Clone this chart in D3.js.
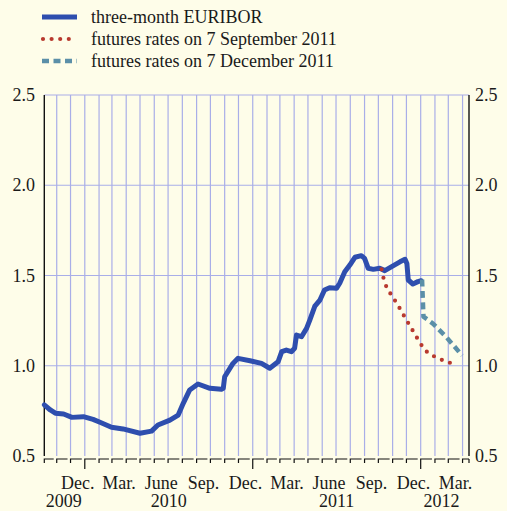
<!DOCTYPE html>
<html lang="en">
<head>
  <meta charset="UTF-8">
  <title>EURIBOR and futures</title>
  <script src="https://d3js.org/d3.v7.min.js"></script>
  <style>
    body { margin: 0; background: #fefde9; }
    svg { display: block; background: #fefde9; }
    text { font-family: "Liberation Serif", "Times New Roman", serif; font-size: 18px; fill: #1a1a1a; }
  </style>
</head>
<body>
<svg width="507" height="511"></svg>
<script>
  // three-month EURIBOR, %
  const euriborDates = ["2009-10-05","2009-10-18","2009-10-29","2009-11-16","2009-12-04","2009-12-29",
    "2010-01-19","2010-02-03","2010-02-28","2010-03-25","2010-05-01","2010-05-26","2010-06-09","2010-07-05",
    "2010-07-23","2010-08-03","2010-08-17","2010-09-04","2010-09-30","2010-10-25","2010-10-29","2010-11-01",
    "2010-11-19","2010-11-30","2010-12-26","2011-01-20","2011-02-07","2011-02-25","2011-03-05","2011-03-15",
    "2011-03-26","2011-04-02","2011-04-06","2011-04-17","2011-04-28","2011-05-05","2011-05-16","2011-05-27",
    "2011-06-06","2011-06-17","2011-07-02","2011-07-09","2011-07-20","2011-07-31","2011-08-11","2011-08-25",
    "2011-09-01","2011-09-09","2011-09-20","2011-10-04","2011-10-15","2011-10-30","2011-11-17","2011-11-28",
    "2011-12-02","2011-12-05","2011-12-15","2011-12-26","2012-01-02"];
  const euriborValues = [0.783,0.755,0.737,0.733,0.714,0.718,
    0.703,0.687,0.659,0.650,0.626,0.638,0.672,0.699,
    0.727,0.792,0.866,0.899,0.875,0.870,0.875,0.939,
    1.013,1.041,1.028,1.013,0.986,1.022,1.078,1.087,
    1.078,1.097,1.170,1.161,1.207,1.253,1.330,1.364,
    1.420,1.432,1.429,1.457,1.521,1.558,1.601,1.610,
    1.595,1.540,1.534,1.540,1.527,1.549,1.576,1.590,
    1.567,1.475,1.453,1.466,1.471];

  // futures rates on 7 September 2011
  const futSepDates = ["2011-10-08","2011-10-12","2011-10-17","2011-10-26","2011-11-04","2011-11-13",
    "2011-11-22","2011-12-01","2011-12-10","2011-12-18","2011-12-28","2012-01-06","2012-01-17",
    "2012-02-01","2012-02-17","2012-03-04","2012-03-20"];
  const futSepValues = [1.534,1.488,1.447,1.405,1.370,1.333,
    1.294,1.253,1.216,1.180,1.139,1.102,1.072,
    1.050,1.032,1.017,0.997];

  // futures rates on 7 December 2011
  const futDecDates = ["2012-01-04","2012-01-07","2012-01-27","2012-02-25","2012-03-31"];
  const futDecValues = [1.478,1.272,1.235,1.161,1.057];

  const yTicks = [0.5, 1.0, 1.5, 2.0, 2.5];
  const monthLabels = [
    ["2009-12-01","Dec."],["2010-03-01","Mar."],["2010-06-01","June"],["2010-09-01","Sep."],
    ["2010-12-01","Dec."],["2011-03-01","Mar."],["2011-06-01","June"],["2011-09-01","Sep."],
    ["2011-12-01","Dec."],["2012-03-01","Mar."]];
  const yearLabels = [["2009-10-01","2010-01-01","2009"],["2010-01-01","2011-01-01","2010"],
    ["2011-01-01","2012-01-01","2011"],["2012-01-01","2012-04-01","2012"]];

  const series = [
    { name: "three-month EURIBOR", dates: euriborDates, values: euriborValues },
    { name: "futures rates on 7 September 2011", dates: futSepDates, values: futSepValues },
    { name: "futures rates on 7 December 2011", dates: futDecDates, values: futDecValues }
  ];
  const styles = [
    { color: "#2e4eae", width: 5, dash: null, cap: "round" },
    { color: "#b8392e", width: 4.2, dash: "0 8.6", cap: "round" },
    { color: "#5b8fa8", width: 4.5, dash: "7 4.5", cap: "butt" }
  ];

  const parse = d3.timeParse("%Y-%m-%d");
  const svg = d3.select("svg");
  const plotLeft = 44.3, plotRight = 469, plotTop = 95, plotBottom = 456;

  const x = d3.scaleTime()
    .domain([parse("2009-10-05"), parse("2012-04-15")])
    .range([plotLeft, plotRight]);
  const y = d3.scaleLinear().domain([0.5, 2.5]).range([plotBottom, plotTop]);

  // grid
  const months = d3.timeMonth.range(parse("2009-11-01"), parse("2012-04-15"));
  svg.append("g").selectAll("line").data(months).join("line")
    .attr("x1", d => x(d)).attr("x2", d => x(d))
    .attr("y1", plotTop).attr("y2", plotBottom)
    .attr("stroke", "#a9aee8").attr("stroke-width", 1.2);
  svg.append("g").selectAll("line").data(yTicks.slice(1)).join("line")
    .attr("x1", plotLeft).attr("x2", plotRight)
    .attr("y1", d => y(d)).attr("y2", d => y(d))
    .attr("stroke", "#a9aee8").attr("stroke-width", 1.2);

  // side axes
  [plotLeft, plotRight].forEach(px => {
    svg.append("line").attr("x1", px).attr("x2", px).attr("y1", plotTop).attr("y2", plotBottom)
      .attr("stroke", "#111").attr("stroke-width", 1.4);
  });

  // y labels both sides
  svg.append("g").selectAll("text").data(yTicks).join("text")
    .attr("x", 35).attr("y", d => y(d) + 6).attr("text-anchor", "end")
    .text(d => d.toFixed(1));
  svg.append("g").selectAll("text").data(yTicks).join("text")
    .attr("x", 475).attr("y", d => y(d) + 6).attr("text-anchor", "start")
    .text(d => d.toFixed(1));

  // bottom month ticks
  const tickY = 459;
  const allMonths = [parse("2009-10-05")].concat(months);
  const tickG = svg.append("g").attr("stroke", "#111").attr("fill", "none").attr("stroke-width", 1.2);
  allMonths.forEach((m, i) => {
    const x0 = x(m);
    const x1 = i < allMonths.length - 1 ? x(allMonths[i + 1]) - 3 : plotRight;
    const down = (m.getMonth() === 0) ? 469 : 463;
    tickG.append("path").attr("d", `M${x0},${down}V${tickY}H${x1}`);
  });
  tickG.append("path").attr("d", `M${plotRight},${tickY}V${tickY + 4}`);

  // month and year labels
  svg.append("g").selectAll("text").data(monthLabels).join("text")
    .attr("x", d => { const s = parse(d[0]); return (x(s) + x(d3.timeMonth.offset(s, 1))) / 2; })
    .attr("y", 489).attr("text-anchor", "middle")
    .text(d => d[1]);
  svg.append("g").selectAll("text").data(yearLabels).join("text")
    .attr("x", d => (x(parse(d[0])) + x(parse(d[1]))) / 2)
    .attr("y", 507).attr("text-anchor", "middle")
    .text(d => d[2]);

  // lines
  const line = d3.line().x(d => x(d[0])).y(d => y(d[1]));
  series.forEach((s, i) => {
    const pts = s.dates.map((d, j) => [parse(d), s.values[j]]);
    const st = styles[i];
    const lg = i === 1 ? d3.line().curve(d3.curveMonotoneX).x(d => x(d[0])).y(d => y(d[1])) : line;
    svg.append("path").datum(pts)
      .attr("d", lg)
      .attr("fill", "none")
      .attr("stroke", st.color)
      .attr("stroke-width", st.width)
      .attr("stroke-linecap", st.cap)
      .attr("stroke-linejoin", "round")
      .attr("stroke-dasharray", st.dash);
  });

  // legend
  const legend = svg.append("g");
  series.forEach((s, i) => {
    const st = styles[i];
    const ly = 17 + i * 22;
    legend.append("line")
      .attr("x1", i === 1 ? 43 : 42).attr("x2", 77)
      .attr("y1", ly).attr("y2", ly)
      .attr("stroke", st.color)
      .attr("stroke-width", i === 0 ? 5 : st.width)
      .attr("stroke-linecap", i === 0 ? "butt" : st.cap)
      .attr("stroke-dasharray", st.dash);
    legend.append("text").attr("x", 91).attr("y", ly + 6).text(s.name);
  });
</script>
</body>
</html>
